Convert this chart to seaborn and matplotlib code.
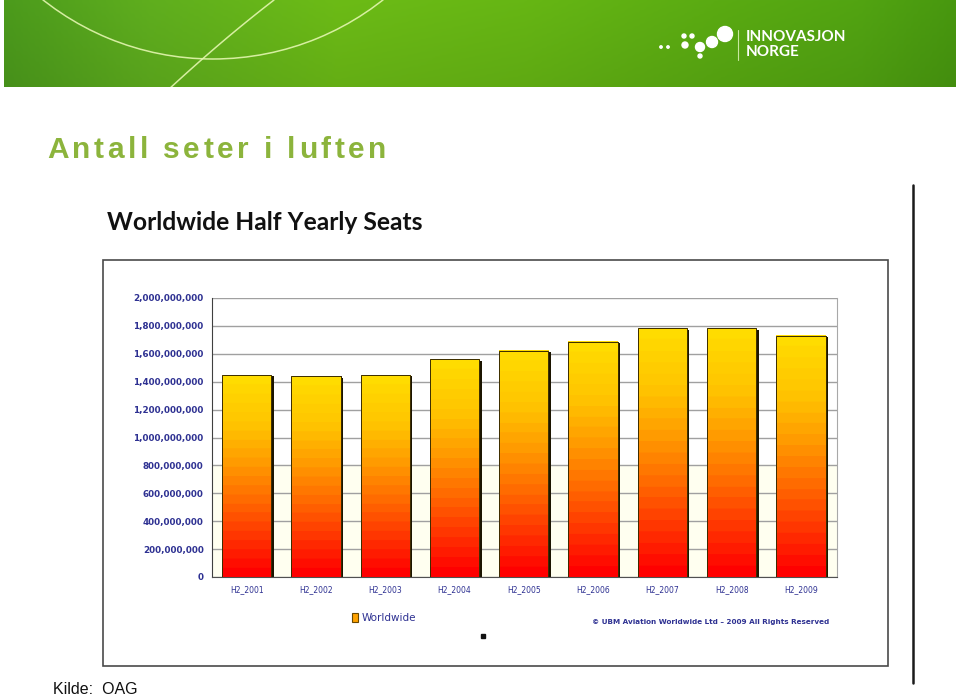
import numpy as np
import pandas as pd
import matplotlib
matplotlib.use("Agg")
import matplotlib.pyplot as plt
import matplotlib.patches as mpatches
from matplotlib.lines import Line2D
from matplotlib.colors import LinearSegmentedColormap
from matplotlib.ticker import FuncFormatter
import seaborn as sns

# data
periods = ["H2_2001", "H2_2002", "H2_2003", "H2_2004", "H2_2005",
           "H2_2006", "H2_2007", "H2_2008", "H2_2009"]
seats = [1.448e9, 1.440e9, 1.448e9, 1.561e9, 1.623e9,
         1.688e9, 1.784e9, 1.784e9, 1.729e9]
series_name = "Worldwide"
y_ticks = [0, 2e8, 4e8, 6e8, 8e8, 1e9, 1.2e9, 1.4e9, 1.6e9, 1.8e9, 2e9]

slide_title = "Antall seter i luften"
chart_title = "Worldwide Half Yearly Seats"
copyright_txt = "\u00a9 UBM Aviation Worldwide Ltd \u2013 2009 All Rights Reserved"
source_txt = "Kilde:  OAG"

W, H = 960, 696
NAVY = "#2e3192"

sns.set_style("white")
fig = plt.figure(figsize=(W / 100, H / 100), dpi=100)
fig.patch.set_facecolor("white")

def fx(px): return px / W
def fy(py): return 1 - py / H

# ---- green banner ----
bax = fig.add_axes([fx(4), fy(87), fx(952), 87 / H])
green = LinearSegmentedColormap.from_list("banner", [
    (0.0, "#4c9b1c"), (0.15, "#5fae1e"), (0.35, "#6cbb16"), (0.55, "#66b614"),
    (0.75, "#5aab12"), (0.9, "#52a412"), (1.0, "#48980f")])
xs = np.linspace(0, 1, 400)
shade = np.linspace(1.0, 0.93, 60)[:, None]
img = green(xs)[None, :, :3] * shade[:, :, None]
bax.imshow(img, extent=[0, 952, 87, 0], aspect="auto")
bax.add_patch(mpatches.Arc((209, -215), 548, 548, theta1=0, theta2=360,
                           color="#e4f6b0", lw=1.1, alpha=0.9))
tt = np.linspace(0, 1, 50)
p0, pc, p2 = np.array([270, 0]), np.array([218, 40]), np.array([164, 90])
curve = ((1 - tt) ** 2)[:, None] * p0 + (2 * (1 - tt) * tt)[:, None] * pc + (tt ** 2)[:, None] * p2
bax.plot(curve[:, 0], curve[:, 1], color="#e4f6b0", lw=1.1, alpha=0.9)
for cx, cy, r in [(657, 47, 1.2), (664, 47, 1.2), (680, 36, 2), (688, 36, 2),
                  (681, 45, 3), (696, 47, 4.5), (708, 42, 5.5), (721, 34, 7.5),
                  (696, 56, 2)]:
    bax.add_patch(mpatches.Circle((cx, cy), r, color="white"))
bax.plot([734, 734], [30, 60], color="#c8e8a0", lw=0.8)
bax.text(742, 37, "INNOVASJON", color="white", fontsize=11, fontweight="bold",
         family="Lato", va="center", ha="left")
bax.text(742, 52, "NORGE", color="white", fontsize=11, fontweight="bold",
         family="Lato", va="center", ha="left")
bax.set_xlim(0, 952)
bax.set_ylim(87, 0)
bax.axis("off")

# ---- slide title, letter-spaced ----
renderer = fig.canvas.get_renderer()
def text_w(s, **kw):
    t = fig.text(0, 0, s + "|", **kw)
    bar = fig.text(0, 0, "|", **kw)
    w = t.get_window_extent(renderer).width - bar.get_window_extent(renderer).width
    t.remove(); bar.remove()
    return w
tkw = dict(fontsize=21.5, fontweight="bold", family="Liberation Sans", color="#8cb43c")
spacing = 3.5
for i, ch in enumerate(slide_title):
    x0 = 47 + text_w(slide_title[:i], **tkw) + i * spacing if i else 47
    fig.text(fx(x0), fy(158.5), ch, va="baseline", ha="left", **tkw)

# ---- chart frame ----
fig.add_artist(mpatches.Rectangle((fx(103), fy(666)), fx(785), 406 / H,
                                  transform=fig.transFigure, fill=False,
                                  edgecolor="#4a4a4a", lw=1.2))
fig.add_artist(Line2D([fx(913), fx(913)], [fy(185), fy(683)],
                      transform=fig.transFigure, color="#1a1a1a", lw=1.8))
fig.text(fx(107), fy(222), chart_title, fontsize=17.7, fontweight="bold",
         family="Lato", va="center", ha="left", color="#111111")

# ---- bar chart ----
ax = fig.add_axes([fx(212), fy(577), fx(625), 279 / H])
df = pd.DataFrame({"period": periods, "seats": seats, "series": series_name})
sns.barplot(data=df, x="period", y="seats", color="#ffd000", width=0.71,
            edgecolor="#2a2000", linewidth=0.7, ax=ax, zorder=3)

bar_cmap = LinearSegmentedColormap.from_list("bar", [
    (0.0, "#ff0000"), (0.12, "#ff2600"), (0.32, "#ff6400"), (0.52, "#ff9c00"),
    (0.70, "#ffc400"), (0.88, "#ffd800"), (1.0, "#ffe000")])
levels = np.floor(np.linspace(0, 1, 240) * 22) / 22
levels[-10:] = 1.0
grad = levels[:, None]
for p in list(ax.patches):
    x, y, w, h = p.get_x(), p.get_y(), p.get_width(), p.get_height()
    ax.add_patch(mpatches.Rectangle((x + w * 0.05, y), w, h * 0.993,
                                    facecolor="#1c1500", edgecolor="none", zorder=2.5))
    ax.imshow(grad, extent=[x, x + w, y, y + h], origin="lower", aspect="auto",
              cmap=bar_cmap, vmin=0, vmax=1.05, zorder=3.2)
    ax.add_patch(mpatches.Rectangle((x, y), w, h, fill=False,
                                    edgecolor="#3a2c00", lw=0.7, zorder=3.4))

ax.axhspan(0, 8e8, color="#fffff0", zorder=0)
ax.set_xlim(-0.48, 8.52)
ax.set_ylim(0, 2e9)
ax.set_yticks(y_ticks)
ax.yaxis.set_major_formatter(FuncFormatter(lambda v, _: f"{int(v):,}"))
ax.yaxis.grid(True, color="#a0a0a0", lw=1.0, zorder=1)
ax.xaxis.grid(False)
ax.set_axisbelow(True)
ax.set_xticks(np.arange(-0.5, len(periods), 1), minor=True)
ax.tick_params(axis="x", which="major", length=0, pad=6, labelsize=5.5, labelcolor=NAVY)
ax.tick_params(axis="x", which="minor", length=3, direction="out", color="#505050")
ax.tick_params(axis="y", length=3, direction="out", color="#505050",
               labelsize=6.3, labelcolor=NAVY, pad=3)
for lbl in ax.get_yticklabels():
    lbl.set_fontweight("bold")
ax.set_xlabel("")
ax.set_ylabel("")
ax.spines["top"].set_visible(False)
ax.spines["left"].set_color("#404040")
ax.spines["bottom"].set_color("#505050")
ax.spines["right"].set_color("#a8a8a8")
ax.set_facecolor("white")

# legend and credits
handle = mpatches.Patch(facecolor="#ffa200", edgecolor="#6a4800", lw=0.8, label=series_name)
fig.legend(handles=[handle], loc="center left", bbox_to_anchor=(fx(343), fy(618)),
           frameon=False, fontsize=7.5, labelcolor=NAVY, handlelength=0.55,
           handleheight=1.0, handletextpad=0.35)
fig.text(fx(592), fy(622), copyright_txt, fontsize=5.2, fontweight="bold",
         color=NAVY, va="center", ha="left")
fig.add_artist(mpatches.Rectangle((fx(481), fy(638)), fx(4), 4 / H,
                                  transform=fig.transFigure, color="#111111"))
fig.text(fx(53), fy(689), source_txt, fontsize=11.5, family="Liberation Sans",
         va="center", ha="left", color="#111111")

fig.savefig("out.png", dpi=100)
